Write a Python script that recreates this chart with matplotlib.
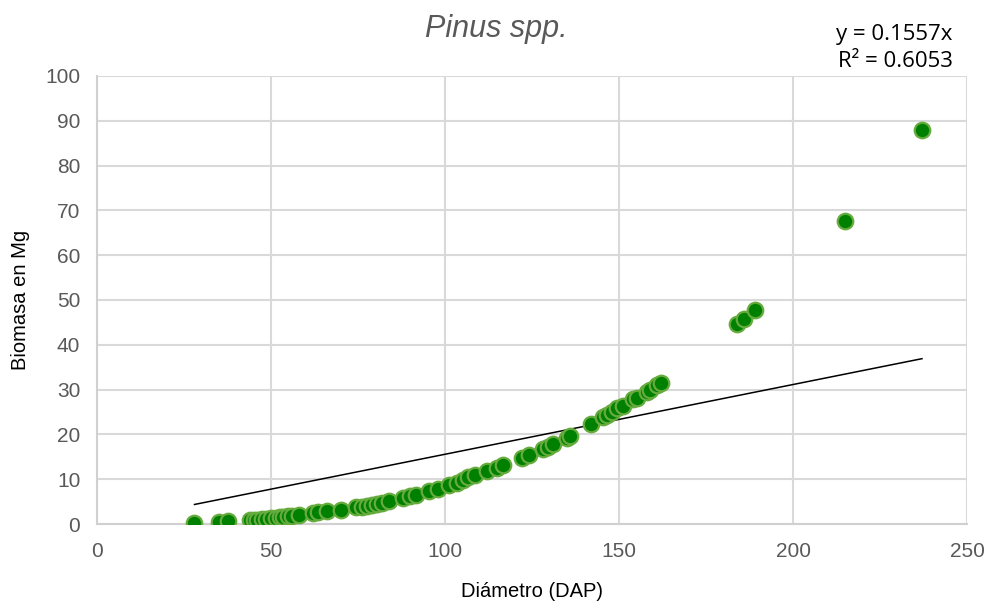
import matplotlib

matplotlib.use("Agg")
import matplotlib.pyplot as plt

# Diámetro (DAP) vs biomasa (Mg)
dap = [28, 35, 37.5, 44, 45, 46, 47.5, 48.5, 50, 51.5, 52.5, 53.5, 55, 56, 58,
       62, 63.5, 66, 70, 74.5, 76, 77.5, 79, 80.5, 82, 84, 88, 90, 91.5, 95.5,
       98, 101, 103.5, 105, 106.5, 108.5, 112, 115, 116.5, 122, 124, 128,
       129.5, 131, 135, 136, 142, 145.5, 146.5, 148, 149.5, 151, 154, 155,
       158, 159, 161, 162, 184, 186, 189, 215, 237]
biomasa = [0.2, 0.5, 0.6, 0.9, 1.0, 1.0, 1.1, 1.2, 1.3, 1.4, 1.5, 1.6, 1.7, 1.8,
           2.0, 2.4, 2.6, 2.8, 3.2, 3.7, 3.9, 4.1, 4.3, 4.5, 4.8, 5.1, 5.8, 6.2,
           6.5, 7.3, 7.9, 8.6, 9.2, 9.8, 10.4, 10.9, 11.8, 12.6, 13.2, 14.8,
           15.4, 16.7, 17.2, 17.8, 19.3, 19.6, 22.3, 23.9, 24.3, 25.0, 25.9,
           26.3, 27.9, 28.2, 29.5, 29.9, 31.0, 31.5, 44.6, 45.8, 47.8, 67.6, 87.9]

slope = 0.1557
r2 = 0.6053
trend_x = [min(dap), max(dap)]
trend_y = [slope * x for x in trend_x]

plt.rcParams["font.family"] = ["Liberation Sans", "DejaVu Sans"]

fig = plt.figure(figsize=(9.9, 6.03), dpi=100)
ax = fig.add_axes([0.098, 0.131, 0.879, 0.743])

ax.scatter(dap, biomasa, s=125, color="#008000", edgecolors="#66ab3d",
           linewidths=1.6, zorder=3)
ax.plot(trend_x, trend_y, color="black", linewidth=1.1, zorder=2)

ax.set_xlim(0, 250)
ax.set_ylim(0, 100)
ax.set_xticks(range(0, 251, 50))
ax.set_yticks(range(0, 101, 10))
ax.grid(True, color="#d9d9d9", linewidth=1.5)
ax.set_axisbelow(True)
for side in ["top", "right"]:
    ax.spines[side].set_visible(False)
for side in ["left", "bottom"]:
    ax.spines[side].set_color("#d0d0d0")
    ax.spines[side].set_linewidth(1.5)
ax.tick_params(length=0, labelsize=15, labelcolor="#595959")
ax.tick_params(axis="x", pad=13)
ax.tick_params(axis="y", pad=12)

ax.set_xlabel("Diámetro (DAP)", fontsize=14.5, color="black", labelpad=15)
ax.set_ylabel("Biomasa en Mg", fontsize=14.5, color="black", labelpad=11)

fig.text(0.501, 0.952, "Pinus spp.", fontsize=22, style="italic",
         color="#595959", ha="center", va="center")
fig.text(0.962, 0.942, f"y = {slope}x", fontsize=16, ha="right",
         va="center", family=["Open Sans", "DejaVu Sans"])
fig.text(0.962, 0.898, f"R² = {r2}", fontsize=16, ha="right",
         va="center", family=["Open Sans", "DejaVu Sans"])

fig.savefig("out.png", dpi=100)
